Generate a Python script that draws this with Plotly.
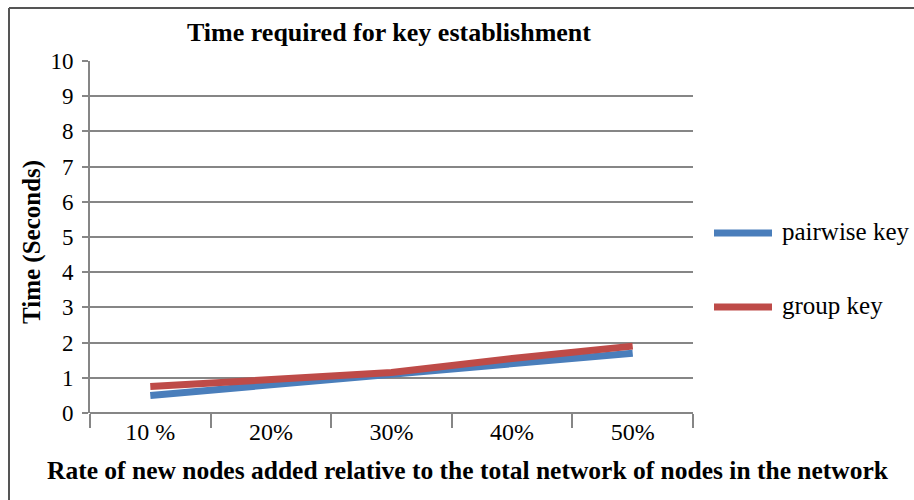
import plotly.graph_objects as go

# Share of new nodes added, and the time each key scheme needs (seconds)
categories = ["10 %", "20%", "30%", "40%", "50%"]
pairwise_key = [0.5, 0.8, 1.1, 1.4, 1.7]
group_key = [0.75, 0.97, 1.15, 1.55, 1.9]
series_names = ["pairwise key", "group key"]
series_colors = ["#4A7EBB", "#BE4B48"]
y_ticks = list(range(0, 11))

FONT = "Liberation Serif, Times New Roman, serif"
GRID = "#868686"

fig = go.Figure()
for name, vals, col in zip(series_names, [pairwise_key, group_key], series_colors):
    fig.add_trace(go.Scatter(
        x=categories, y=vals, name=name, mode="lines",
        line=dict(color=col, width=7), showlegend=False,
    ))

L, R, T, B = 90, 221, 61, 87
W, H = 914, 500
pw, ph = W - L - R, H - T - B

def px_to_paper(x, y):
    return (x - L) / pw, (H - B - y) / ph

# Legend drawn on the right: long line swatch followed by the label
for i, (name, col) in enumerate(zip(series_names, series_colors)):
    ly = [233, 307][i]
    x0, yy = px_to_paper(714, ly)
    x1, _ = px_to_paper(772, ly)
    fig.add_shape(type="line", xref="paper", yref="paper", x0=x0, x1=x1, y0=yy, y1=yy,
                  line=dict(color=col, width=7))
    tx, ty = px_to_paper(780, ly - 2)
    fig.add_annotation(xref="paper", yref="paper", x=tx, y=ty,
                       text=name, showarrow=False, xanchor="left", yanchor="middle",
                       font=dict(family=FONT, size=25, color="black"))

# Frame around the figure (left and top edges fall inside the view)
bx, by = px_to_paper(9, 8)
_, bbot = px_to_paper(9, 520)
bright, _ = px_to_paper(940, 8)
fig.add_shape(type="line", xref="paper", yref="paper", x0=bx, x1=bright, y0=by, y1=by,
              line=dict(color="#555555", width=2))
fig.add_shape(type="line", xref="paper", yref="paper", x0=bx, x1=bx, y0=bbot, y1=by,
              line=dict(color="#555555", width=2))

# Titles
tx, ty = px_to_paper(389, 33)
fig.add_annotation(xref="paper", yref="paper", x=tx, y=ty, text="<b>Time required for key establishment</b>",
                   showarrow=False, xanchor="center", yanchor="middle",
                   font=dict(family=FONT, size=26, color="black"))
xx, xy = px_to_paper(468, 470)
fig.add_annotation(xref="paper", yref="paper", x=xx, y=xy,
                   text="<b>Rate of new nodes added relative to the total network of nodes in the network</b>",
                   showarrow=False, xanchor="center", yanchor="middle",
                   font=dict(family=FONT, size=25.5, color="black"))
yx, yy = px_to_paper(32, 242)
fig.add_annotation(xref="paper", yref="paper", x=yx, y=yy, text="<b>Time (Seconds)</b>", textangle=-90,
                   showarrow=False, xanchor="center", yanchor="middle",
                   font=dict(family=FONT, size=25, color="black"))

fig.update_layout(
    width=W, height=H,
    margin=dict(l=L, r=R, t=T, b=B),
    paper_bgcolor="white", plot_bgcolor="white",
    font=dict(family=FONT, size=20, color="black"),
    showlegend=False,
    xaxis=dict(
        type="category", range=[-0.5, 4.5], tickson="boundaries", ticks="outside", ticklen=14,
        tickwidth=1.5, tickcolor=GRID, showgrid=False, showline=False, zeroline=False,
        ticklabelstandoff=2,
        tickfont=dict(family=FONT, size=24, color="black"),
    ),
    yaxis=dict(
        range=[0, 10], tickvals=y_ticks, ticks="outside", ticklen=6, tickwidth=2, tickcolor=GRID,
        showgrid=True, gridcolor=GRID, gridwidth=2, showline=True, linecolor=GRID, linewidth=2,
        zeroline=True, zerolinecolor=GRID, zerolinewidth=2, ticklabelstandoff=4,
        tickfont=dict(family=FONT, size=23, color="black"),
    ),
)

fig.write_html("out.html")
